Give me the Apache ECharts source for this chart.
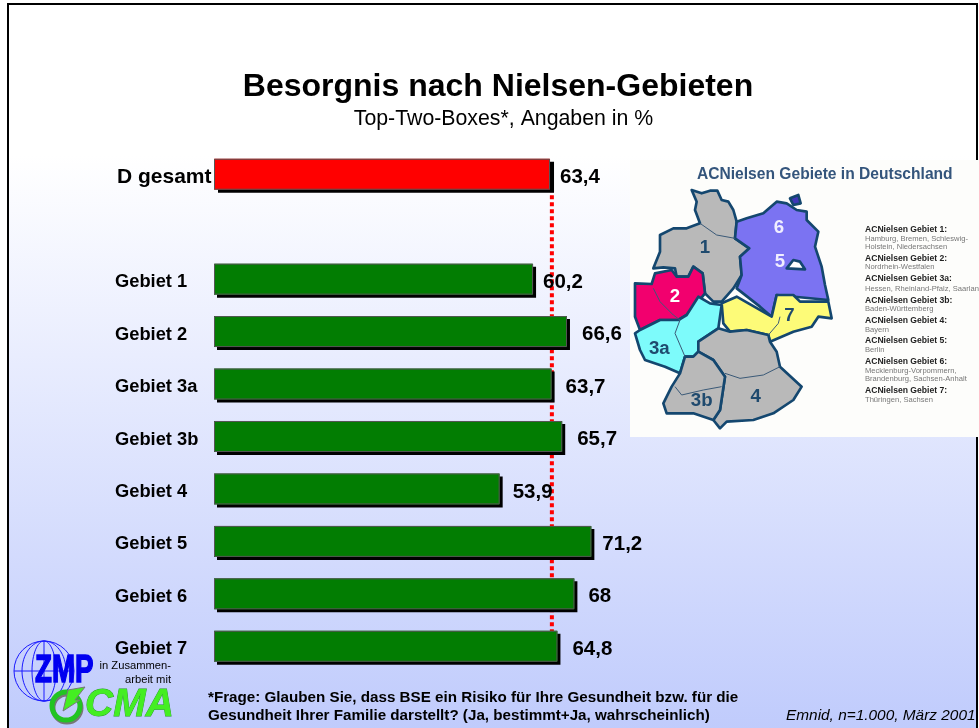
<!DOCTYPE html>
<html>
<head>
<meta charset="utf-8">
<title>Besorgnis nach Nielsen-Gebieten</title>
<script src="https://cdn.jsdelivr.net/npm/echarts@6/dist/echarts.min.js"></script>
<style>
  html, body { margin: 0; padding: 0; background: #fff; }
  #chart { width: 979px; height: 728px; }
</style>
</head>
<body>
<div id="chart"></div>
<script>
// Werte
const categories = ['D gesamt', '', 'Gebiet 1', 'Gebiet 2', 'Gebiet 3a', 'Gebiet 3b', 'Gebiet 4', 'Gebiet 5', 'Gebiet 6', 'Gebiet 7'];
const values = [63.4, null, 60.2, 66.6, 63.7, 65.7, 53.9, 71.2, 68, 64.8];
// Lage der gepunkteten Linie, wie sie im Bild steht
const referenceValue = 63.75;
const labelGaps = [10, 0, 10, 15, 14, 15, 13, 11, 14, 15];

const legendLines = [
  ['ACNielsen Gebiet 1:', true, 230],
  ['Hamburg, Bremen, Schleswig-', false, 239],
  ['Holstein, Niedersachsen', false, 247],
  ['ACNielsen Gebiet 2:', true, 259],
  ['Nordrhein-Westfalen', false, 267],
  ['ACNielsen Gebiet 3a:', true, 279],
  ['Hessen, Rheinland-Pfalz, Saarland', false, 289],
  ['ACNielsen Gebiet 3b:', true, 301],
  ['Baden-Württemberg', false, 309],
  ['ACNielsen Gebiet 4:', true, 321],
  ['Bayern', false, 330],
  ['ACNielsen Gebiet 5:', true, 341],
  ['Berlin', false, 350],
  ['ACNielsen Gebiet 6:', true, 362],
  ['Mecklenburg-Vorpommern,', false, 371],
  ['Brandenburg, Sachsen-Anhalt', false, 379],
  ['ACNielsen Gebiet 7:', true, 391],
  ['Thüringen, Sachsen', false, 400]
];

// Kartenflächen (Koordinaten innerhalb der Kartengruppe, Massstab 3:1)
const mapShapes = [
  ['#b9b9b9', [[185,90],[215,100],[240,92],[262,92],[275,120],[295,125],[310,150],[320,185],[315,235],[358,265],[330,290],[335,345],[310,385],[275,425],[250,425],[225,400],[218,340],[190,320],[175,350],[140,350],[135,325],[100,322],[70,325],[90,275],[90,225],[130,205],[170,205],[210,190],[195,150],[200,125]]],
  ['#7b73f2', [[320,185],[350,175],[400,160],[440,125],[470,130],[500,150],[530,155],[530,180],[565,215],[555,260],[575,320],[585,375],[595,420],[440,405],[425,470],[390,440],[320,385],[335,345],[330,290],[358,265],[315,235]]],
  ['#f2006e', [[15,370],[65,372],[75,340],[125,330],[140,350],[175,350],[190,320],[218,340],[225,400],[205,425],[170,465],[145,480],[90,480],[30,510],[15,470]]],
  ['#7dfbfb', [[30,510],[90,480],[145,480],[170,465],[205,410],[240,430],[275,435],[265,505],[205,545],[205,575],[190,590],[165,590],[150,640],[105,620],[45,600],[30,570],[15,520]]],
  ['#fdfb78', [[275,430],[320,410],[425,470],[440,405],[490,405],[510,425],[595,425],[605,475],[565,470],[545,500],[490,515],[420,545],[415,525],[350,510],[300,515],[280,490]]],
  ['#b9b9b9', [[265,505],[300,515],[350,510],[415,525],[420,545],[440,575],[450,620],[515,680],[490,720],[430,760],[370,780],[290,785],[270,805],[250,780],[270,750],[285,650],[250,600],[205,575],[205,545]]],
  ['#b9b9b9', [[190,590],[205,575],[250,600],[285,650],[270,750],[250,780],[190,760],[110,760],[100,730],[125,680],[150,640],[165,590]]],
  ['#3f37b8', [[480,115],[505,105],[512,130],[490,135]]],
  ['#ffffff', [[470,325],[490,300],[510,305],[525,328]]]
];
const mapInnerLines = [
  [[70,385],[90,425],[130,465],[150,480]],
  [[150,480],[135,520],[165,590]],
  [[415,525],[445,490],[450,470]],
  [[135,680],[155,705],[220,690],[275,680]],
  [[285,640],[330,655],[400,645],[450,620]],
  [[210,190],[260,225],[315,235]]
];
const mapLabels = [
  ['1', 225, 265, '#1f4a6e'], ['2', 135, 410, '#ffffff'], ['3a', 88, 568, '#1f4a6e'],
  ['3b', 215, 722, '#1f4a6e'], ['4', 377, 712, '#1f4a6e'], ['5', 450, 305, '#f0eeff'],
  ['6', 447, 205, '#f0eeff'], ['7', 478, 468, '#1f4a6e']
];

const font = '"Liberation Sans", Arial, sans-serif';

const chart = echarts.init(document.getElementById('chart'));

const txt = (text, x, y, size, extra) => ({
  type: 'text',
  x: x,
  y: y,
  z: 50,
  style: Object.assign({ text: text, font: size + 'px ' + font, fill: '#000', textVerticalAlign: 'middle' }, extra)
});

const mapGroup = {
  type: 'group',
  x: 630,
  y: 160,
  scaleX: 1 / 3,
  scaleY: 1 / 3,
  z: 5,
  children: mapShapes.map(s => ({
    type: 'polygon',
    z: 5,
    shape: { points: s[1] },
    style: { fill: s[0], stroke: '#14476f', lineWidth: 8, lineJoin: 'round' }
  })).concat(mapInnerLines.map(l => ({
    type: 'polyline',
    z: 6,
    shape: { points: l },
    style: { fill: null, stroke: '#3b5a78', lineWidth: 3 }
  }))).concat(mapLabels.map(l => ({
    type: 'text',
    x: l[1],
    y: l[2],
    z: 7,
    style: { text: l[0], font: 'bold 56px ' + font, fill: l[3], textAlign: 'center', textVerticalAlign: 'middle' }
  })))
};

const logo = [
  // Globus
  { type: 'circle', z: 40, shape: { cx: 44, cy: 671, r: 30 }, style: { fill: null, stroke: '#1a1aff', lineWidth: 1 } },
  { type: 'ellipse', z: 40, shape: { cx: 44, cy: 671, rx: 22, ry: 30 }, style: { fill: null, stroke: '#1a1aff', lineWidth: 1 } },
  { type: 'ellipse', z: 40, shape: { cx: 44, cy: 671, rx: 12, ry: 30 }, style: { fill: null, stroke: '#1a1aff', lineWidth: 1 } },
  { type: 'line', z: 40, shape: { x1: 44, y1: 641, x2: 44, y2: 701 }, style: { stroke: '#1a1aff', lineWidth: 1 } },
  { type: 'line', z: 40, shape: { x1: 14, y1: 671, x2: 74, y2: 671 }, style: { stroke: '#1a1aff', lineWidth: 1 } },
  { type: 'text', x: 35, y: 671, z: 41, scaleX: 0.71, style: { text: 'ZMP', font: 'bold 39px ' + font, fill: '#0000f0', stroke: '#0000f0', lineWidth: 1.5, textVerticalAlign: 'middle' } },
  // CMA
  { type: 'circle', z: 42, shape: { cx: 66, cy: 706, r: 14 }, style: { fill: null, stroke: '#22c422', lineWidth: 5, shadowColor: '#777', shadowOffsetX: 1, shadowOffsetY: 2 } },
  { type: 'polygon', z: 43, shape: { points: [[63,711],[68,690],[85,687],[75,700],[80,700]] }, style: { fill: '#44ee22', stroke: '#777', lineWidth: 1 } },
  { type: 'text', x: 85, y: 705, z: 42, style: { text: 'CMA', font: 'italic bold 39px ' + font, fill: '#44ee22', stroke: '#229922', lineWidth: 0.8, textVerticalAlign: 'middle', shadowColor: '#777', shadowOffsetX: 2, shadowOffsetY: 3 } },
  txt('in Zusammen-', 171, 666, 11.2, { textAlign: 'right' }),
  txt('arbeit mit', 171, 680, 11.2, { textAlign: 'right' })
];

const graphicElements = [
  // Folienhintergrund mit Rahmen
  {
    type: 'rect',
    z: -10,
    shape: { x: 8, y: 4, width: 969, height: 760 },
    style: {
      fill: new echarts.graphic.LinearGradient(0, 0, 0, 1, [
        { offset: 0, color: '#ffffff' },
        { offset: 0.2, color: '#ffffff' },
        { offset: 1, color: '#bcc8fc' }
      ]),
      stroke: '#000',
      lineWidth: 2
    }
  },
  { type: 'rect', z: 4, shape: { x: 630, y: 160, width: 349, height: 277 }, style: { fill: '#fdfdfb' } },
  txt('ACNielsen Gebiete in Deutschland', 697, 175, 15.6, { font: 'bold 15.6px ' + font, fill: '#34557c' }),
  mapGroup,
  txt('*Frage: Glauben Sie, dass BSE ein Risiko für Ihre Gesundheit bzw. für die', 208, 698, 15.2, { font: 'bold 15.2px ' + font }),
  txt('Gesundheit Ihrer Familie darstellt? (Ja, bestimmt+Ja, wahrscheinlich)', 208, 716, 15.2, { font: 'bold 15.2px ' + font }),
  txt('Emnid, n=1.000, März 2001', 786, 716, 15.4, { font: 'italic 15.4px ' + font })
].concat(legendLines.map(l => txt(l[0], 865, l[2], 8, {
  font: (l[1] ? 'bold 8.6px ' : '7.6px ') + font,
  fill: l[1] ? '#222' : '#777'
}))).concat(logo);

chart.setOption({
  animation: false,
  backgroundColor: '#fff',
  title: [
    {
      text: 'Besorgnis nach Nielsen-Gebieten',
      left: 493,
      top: 66,
      textAlign: 'center',
      textStyle: { fontFamily: font, fontSize: 32, fontWeight: 'bold', color: '#000' }
    },
    {
      text: 'Top-Two-Boxes*, Angaben in %',
      left: 498.5,
      top: 104,
      textAlign: 'center',
      textStyle: { fontFamily: font, fontSize: 21.3, fontWeight: 'normal', color: '#000' }
    }
  ],
  grid: { left: 214, top: 148, width: 530, height: 524.5 },
  xAxis: { type: 'value', min: 0, max: 100, show: false },
  yAxis: {
    type: 'category',
    inverse: true,
    data: categories,
    axisLine: { show: false },
    axisTick: { show: false },
    splitLine: { show: false },
    axisLabel: {
      align: 'left',
      margin: 99,
      color: '#000',
      interval: 0,
      formatter: v => (v === 'D gesamt' ? '{main|' + v + '}' : v ? '{sub|' + v + '}' : ''),
      rich: {
        main: { fontFamily: font, fontWeight: 'bold', fontSize: 21, color: '#000', padding: [5, 0, 0, 2] },
        sub: { fontFamily: font, fontWeight: 'bold', fontSize: 18.3, color: '#000', padding: [6, 0, 0, 0] }
      }
    }
  },
  series: [
    {
      type: 'line',
      z: 1,
      symbol: 'none',
      silent: true,
      data: [[referenceValue, categories[0]], [referenceValue, categories[categories.length - 1]]],
      lineStyle: { color: '#ff0000', width: 4, type: [4, 3] }
    },
    {
      // Balken mit hartem schwarzem Schatten
      type: 'bar',
      z: 3,
      barWidth: 31,
      barGap: '-100%',
      data: values.map((v, i) => ({
        value: v,
        itemStyle: {
          color: i === 0 ? '#ff0000' : '#027d02',
          shadowColor: '#000',
          shadowBlur: 0,
          shadowOffsetX: i === 0 ? 4 : 3,
          shadowOffsetY: 3
        },
        label: { distance: labelGaps[i] }
      })),
      label: {
        show: true,
        position: 'right',
        offset: [0, 3],
        fontFamily: font,
        fontWeight: 'bold',
        fontSize: 20.5,
        color: '#000',
        formatter: p => String(p.value).replace('.', ',')
      }
    },
    {
      // feine graue Kontur oben auf
      type: 'bar',
      z: 4,
      barWidth: 31,
      silent: true,
      data: values,
      itemStyle: { color: 'transparent', borderColor: '#555', borderWidth: 1 }
    }
  ],
  graphic: { elements: graphicElements }
});
</script>
</body>
</html>
